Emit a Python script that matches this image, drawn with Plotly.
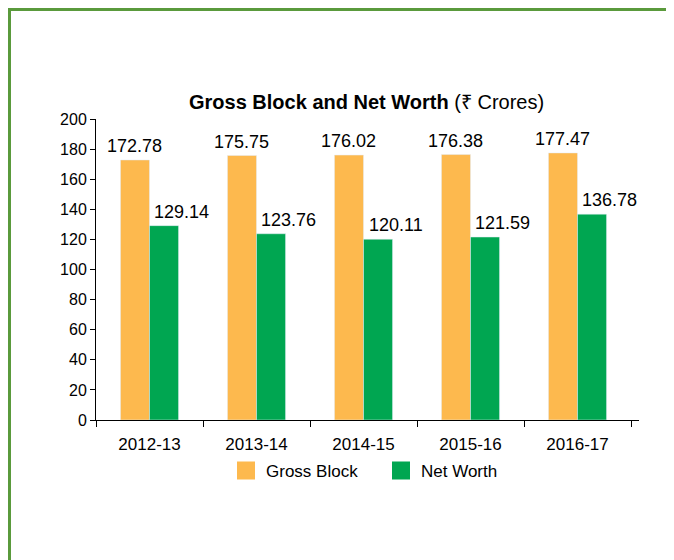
import plotly.graph_objects as go

years = ["2012-13", "2013-14", "2014-15", "2015-16", "2016-17"]
gross_block = [172.78, 175.75, 176.02, 176.38, 177.47]
net_worth = [129.14, 123.76, 120.11, 121.59, 136.78]
y_ticks = [0, 20, 40, 60, 80, 100, 120, 140, 160, 180, 200]

ORANGE = "#FDB94E"
GREEN = "#00A651"
FONT = "Liberation Sans, Arial, sans-serif"

fig = go.Figure()
fig.add_trace(go.Bar(x=years, y=gross_block, name="Gross Block", marker_color=ORANGE,
                     showlegend=False))
fig.add_trace(go.Bar(x=years, y=net_worth, name="Net Worth", marker_color=GREEN,
                     showlegend=False))
# legend proxies (larger square swatches)
for name, col in [("Gross Block", ORANGE), ("Net Worth", GREEN)]:
    fig.add_trace(go.Scatter(x=[None], y=[None], mode="markers", name=name,
                             marker=dict(symbol="square", size=16, color=col,
                                         line=dict(color=col, width=2))))

annotations = []
for yr, g, n in zip(years, gross_block, net_worth):
    annotations.append(dict(x=yr, y=g, text=f"{g:.2f}", showarrow=False, xref="x", yref="y",
                            xanchor="center", yanchor="bottom", xshift=-15, yshift=2,
                            font=dict(size=18, color="black", family=FONT)))
    annotations.append(dict(x=yr, y=n, text=f"{n:.2f}", showarrow=False, xref="x", yref="y",
                            xanchor="center", yanchor="bottom", xshift=32, yshift=2,
                            font=dict(size=18, color="black", family=FONT)))

border = "#5A9A3C"
shapes = [
    dict(type="line", xref="paper", yref="paper", x0=-0.1593, x1=-0.1593, y0=1.3688, y1=-0.5,
         line=dict(color=border, width=3)),
    dict(type="line", xref="paper", yref="paper", x0=-0.1620, x1=1.2, y0=1.3638, y1=1.3638,
         line=dict(color=border, width=3)),
]

fig.update_layout(
    width=674, height=560,
    margin=dict(l=88, r=43, t=111, b=148),
    paper_bgcolor="white", plot_bgcolor="white",
    font=dict(family=FONT, color="black"),
    barmode="group", bargap=0.457, bargroupgap=0,
    title=dict(text="<b>Gross Block and Net Worth</b> (₹ Crores)", x=0.532, xanchor="center",
               xref="container", y=1 - 94 / 560, yanchor="middle", yref="container",
               font=dict(size=20, color="black", family=FONT)),
    xaxis=dict(showline=True, linecolor="black", linewidth=1, ticks="outside", ticklen=6,
               tickcolor="black", tickson="boundaries", showgrid=False,
               tickfont=dict(size=17, color="black", family=FONT), ticklabelstandoff=9),
    yaxis=dict(range=[0, 200], tickvals=y_ticks, showline=True, linecolor="black", linewidth=1,
               ticks="outside", ticklen=5, tickcolor="black", showgrid=False, zeroline=False,
               tickfont=dict(size=16, color="black", family=FONT)),
    legend=dict(orientation="h", x=0.2394, xanchor="left", y=-0.169, yanchor="middle",
                entrywidth=110, font=dict(size=17, color="black", family=FONT),
                bgcolor="rgba(0,0,0,0)"),
    annotations=annotations,
    shapes=shapes,
)

fig.write_html("out.html")
